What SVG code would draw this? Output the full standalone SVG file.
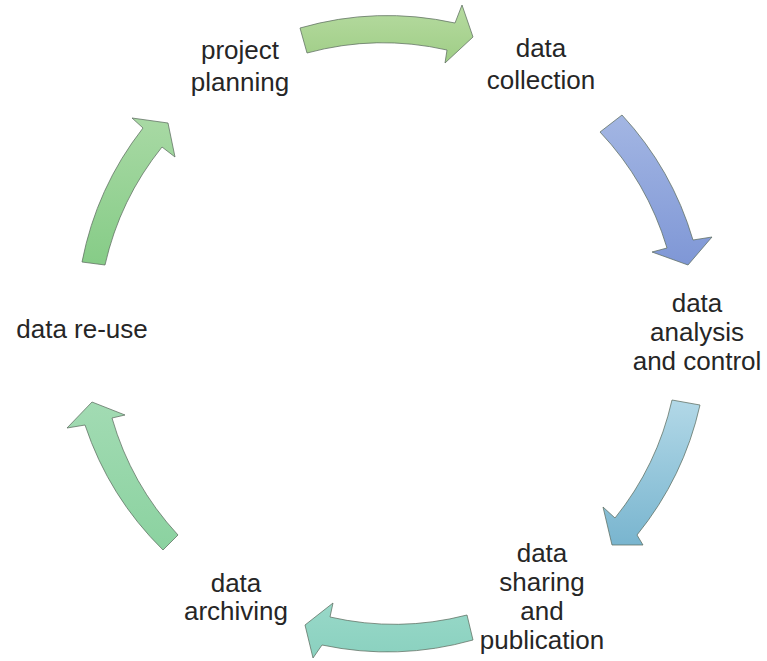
<svg xmlns="http://www.w3.org/2000/svg" width="767" height="661" viewBox="0 0 767 661">
  <defs>
    <linearGradient id="gTop" x1="0" y1="0" x2="0" y2="1">
      <stop offset="0" stop-color="#b6dba0"/>
      <stop offset="1" stop-color="#9fcd86"/>
    </linearGradient>
    <linearGradient id="gRU" x1="0" y1="0" x2="0" y2="1">
      <stop offset="0" stop-color="#a3b6e3"/>
      <stop offset="1" stop-color="#7f97d6"/>
    </linearGradient>
    <linearGradient id="gRD" x1="0" y1="0" x2="0" y2="1">
      <stop offset="0" stop-color="#b2d8e7"/>
      <stop offset="1" stop-color="#79b5cf"/>
    </linearGradient>
    <linearGradient id="gB" x1="0" y1="0" x2="0" y2="1">
      <stop offset="0" stop-color="#98d8c8"/>
      <stop offset="1" stop-color="#8ad1bf"/>
    </linearGradient>
    <linearGradient id="gBL" x1="0" y1="0" x2="0" y2="1">
      <stop offset="0" stop-color="#a2dbb3"/>
      <stop offset="1" stop-color="#8bd2a0"/>
    </linearGradient>
    <linearGradient id="gTL" x1="0" y1="0" x2="0" y2="1">
      <stop offset="0" stop-color="#a8d9a4"/>
      <stop offset="1" stop-color="#86cc87"/>
    </linearGradient>
  </defs>
  <style>
    .arrow { stroke: #5e6e60; stroke-opacity: 0.75; stroke-width: 1; stroke-linejoin: miter; }
    .lbl { font-family: "Liberation Sans", Arial, sans-serif; font-size: 26px; fill: #262626; text-anchor: middle; }
  </style>
  <rect width="767" height="661" fill="#ffffff"/>

  <g id="connectors">
    <path id="arrow-top" class="arrow" fill="url(#gTop)" d="M300,28 A316,316 0 0 1 455,23 L462,5 L473,37 L445,63 L447,50 A290,290 0 0 0 307,53 Z"/>
    <path id="arrow-right-up" class="arrow" fill="url(#gRU)" d="M622,115 A316,316 0 0 1 693,240 L712,237 L688,265 L652,252 L667,248 A290,290 0 0 0 600,132 Z"/>
    <path id="arrow-right-down" class="arrow" fill="url(#gRD)" d="M700,405 A316,316 0 0 1 637,535 L643,545 L612,545 L603,507 L615,518 A290,290 0 0 0 672,400 Z"/>
    <path id="arrow-bottom" class="arrow" fill="url(#gB)" d="M473,640 A316,316 0 0 1 322,645 L313,658 L305,625 L333,603 L330,617 A290,290 0 0 0 467,615 Z"/>
    <path id="arrow-bottom-left" class="arrow" fill="url(#gBL)" d="M163,550 A316,316 0 0 1 85,425 L67,428 L92,402 L125,415 L112,418 A290,290 0 0 0 178,535 Z"/>
    <path id="arrow-top-left" class="arrow" fill="url(#gTL)" d="M82,262 A316,316 0 0 1 143,128 L132,118 L168,123 L175,157 L162,147 A290,290 0 0 0 105,265 Z"/>
  </g>

  <g id="node-project-planning">
    <text class="lbl" x="240" y="59">project</text>
    <text class="lbl" x="240" y="91">planning</text>
  </g>
  <g id="node-data-collection">
    <text class="lbl" x="541" y="57">data</text>
    <text class="lbl" x="541" y="89">collection</text>
  </g>
  <g id="node-data-analysis">
    <text class="lbl" x="697" y="312">data</text>
    <text class="lbl" x="697" y="341">analysis</text>
    <text class="lbl" x="697" y="370">and control</text>
  </g>
  <g id="node-data-sharing">
    <text class="lbl" x="542" y="562">data</text>
    <text class="lbl" x="542" y="591">sharing</text>
    <text class="lbl" x="542" y="620">and</text>
    <text class="lbl" x="542" y="649">publication</text>
  </g>
  <g id="node-data-archiving">
    <text class="lbl" x="236" y="592">data</text>
    <text class="lbl" x="236" y="620">archiving</text>
  </g>
  <g id="node-data-reuse">
    <text class="lbl" x="82" y="338">data re-use</text>
  </g>
</svg>
